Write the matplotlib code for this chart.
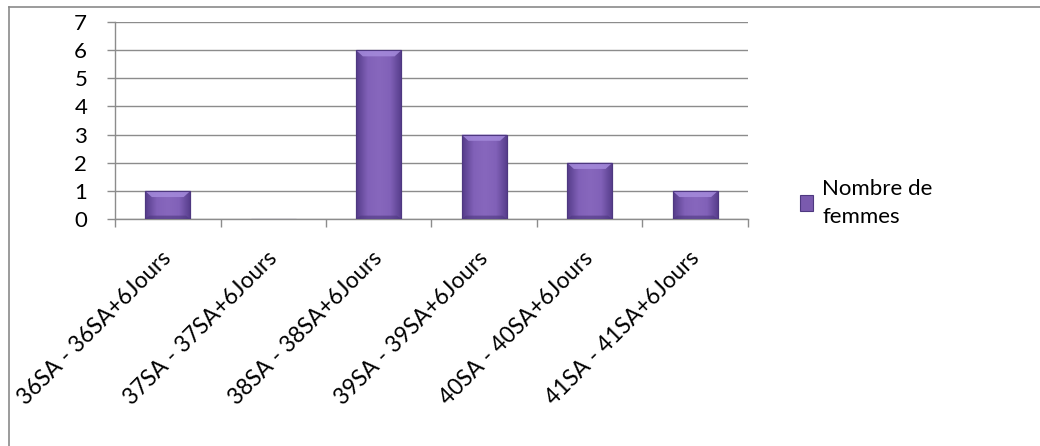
import matplotlib
matplotlib.use("Agg")
import matplotlib.pyplot as plt
import matplotlib.transforms as mtransforms
import numpy as np
from matplotlib.colors import LinearSegmentedColormap
from matplotlib.lines import Line2D
from matplotlib.patches import Rectangle, Polygon
from matplotlib.legend_handler import HandlerPatch

plt.rcParams["font.family"] = ["Lato", "DejaVu Sans"]

categories = [
    "36SA - 36SA+6Jours",
    "37SA - 37SA+6Jours",
    "38SA - 38SA+6Jours",
    "39SA - 39SA+6Jours",
    "40SA - 40SA+6Jours",
    "41SA - 41SA+6Jours",
]
nombre_de_femmes = [1, 0, 6, 3, 2, 1]
legend_label = "Nombre de\nfemmes"

BAR = "#7a5aae"
EDGE = "#4e3880"
GRID = "#8c8c8c"

fig = plt.figure(figsize=(10.4, 4.46), dpi=100)
ax = fig.add_axes([115 / 1040, 1 - 219 / 446, (748 - 115) / 1040, (219 - 22) / 446])

x = np.arange(len(categories))
bars = ax.bar(x, nombre_de_femmes, width=0.43, color=BAR, edgecolor=EDGE,
              linewidth=0.8, zorder=3, label=legend_label)

# bevel look: darker sides, lighter middle, pale trapezoid on top
side_cmap = LinearSegmentedColormap.from_list(
    "side", ["#553c8a", "#8161b8", "#8767bd", "#8161b8", "#553c8a"])
for rect in bars:
    h = rect.get_height()
    if h <= 0:
        continue
    x0, w = rect.get_x(), rect.get_width()
    grad = np.linspace(0, 1, 64).reshape(1, -1)
    im = ax.imshow(grad, cmap=side_cmap, aspect="auto", zorder=3.5,
                   extent=(x0, x0 + w, 0, h), interpolation="bicubic")
    im.set_clip_path(rect)
    top = min(0.22, h * 0.3)
    ax.add_patch(Polygon([(x0, h), (x0 + w, h), (x0 + w * 0.85, h - top), (x0 + w * 0.15, h - top)],
                         closed=True, facecolor="#a58bdc", edgecolor="none", alpha=0.85, zorder=3.6))
    bot = min(0.12, h * 0.2)
    ax.add_patch(Polygon([(x0, 0), (x0 + w, 0), (x0 + w * 0.9, bot), (x0 + w * 0.1, bot)],
                         closed=True, facecolor="#4e3880", edgecolor="none", alpha=0.6, zorder=3.6))
    ax.add_patch(Rectangle((x0, 0), w, h, facecolor="none", edgecolor=EDGE,
                           linewidth=0.8, zorder=3.7))

ax.set_xlim(-0.5, len(categories) - 0.5)
ax.set_ylim(0, 7)
ax.set_yticks(range(0, 8))
ax.yaxis.grid(True, color=GRID, linewidth=1.0, zorder=0)
ax.set_axisbelow(True)

ax.set_xticks(x)
ax.set_xticklabels(categories, rotation=45, ha="right", va="top",
                   rotation_mode="anchor", fontsize=16.3)
ax.tick_params(axis="x", length=0, pad=14)
shift = mtransforms.ScaledTranslation(-7 / 100, -9 / 100, fig.dpi_scale_trans)
for lbl in ax.get_xticklabels():
    lbl.set_transform(lbl.get_transform() + shift)
ax.set_xticks(np.arange(-0.5, len(categories)), minor=True)
ax.tick_params(axis="x", which="minor", length=6, color=GRID, width=1.0)
ax.tick_params(axis="y", length=6, color=GRID, width=1.0, labelsize=16, pad=14)

for side in ["top", "right"]:
    ax.spines[side].set_visible(False)
for side in ["left", "bottom"]:
    ax.spines[side].set_color(GRID)
    ax.spines[side].set_linewidth(1.0)


def _square(legend, orig_handle, xdescent, ydescent, width, height, fontsize):
    s = fontsize * 0.55
    return Rectangle((width - s - xdescent, height * 0.5 + fontsize * 0.45), s, s)


leg = ax.legend(loc="center left", bbox_to_anchor=(780 / 1040, 1 - 203 / 446),
                bbox_transform=fig.transFigure, frameon=False, fontsize=16,
                handlelength=0.6, handletextpad=0.4,
                handler_map={Rectangle: HandlerPatch(patch_func=_square)})
leg.get_texts()[0].set_linespacing(1.55)

# chart border (only top and left edges visible in the crop)
fig.add_artist(Line2D([9 / 1040, 1], [1 - 6.5 / 446] * 2, transform=fig.transFigure,
                      color="#8a8a8a", linewidth=1.2))
fig.add_artist(Line2D([9 / 1040] * 2, [0, 1 - 6.5 / 446], transform=fig.transFigure,
                      color="#8a8a8a", linewidth=1.2))

fig.savefig("out.png", dpi=100, facecolor="white")
